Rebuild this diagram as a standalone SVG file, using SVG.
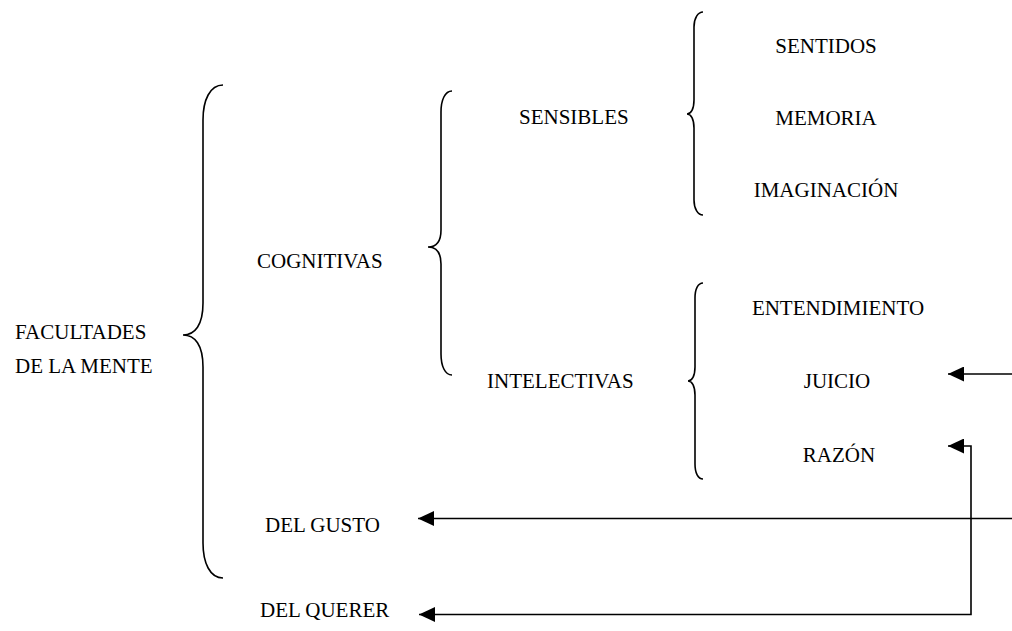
<svg xmlns="http://www.w3.org/2000/svg" width="1012" height="631" viewBox="0 0 1012 631">
<style>
text{font-family:"Liberation Serif","Times New Roman",serif;font-size:21px;fill:#000}
.brace{fill:none;stroke:#000;stroke-width:1.6}
.conn{fill:none;stroke:#000;stroke-width:1.6}
</style>
<defs>
<marker id="ah" viewBox="0 0 16 15" refX="16" refY="7.5" markerWidth="16" markerHeight="15" markerUnits="userSpaceOnUse" orient="auto-start-reverse">
<path d="M0,0 L16,7.5 L0,15 Z" fill="#000"/>
</marker>
</defs>
<rect width="1012" height="631" fill="#fff"/>
<g id="braces">
<path class="brace" d="M223,85 C210,85 203,100 203,120 L203,303 C203,325 195,335 183,335 C195,335 203,345 203,367 L203,543 C203,563 210,578 223,578"/>
<path class="brace" d="M452,91 C445,91 441,100 441,112 L441,230 C441,242 436,247 428,247 C436,247 441,252 441,264 L441,354 C441,366 445,375 452,375"/>
<path class="brace" d="M703,12 C698,12 694,18 694,27 L694,100 C694,109 691,114 687,114 C691,114 694,119 694,128 L694,200 C694,209 698,215 703,215"/>
<path class="brace" d="M703,283 C698,283 695,289 695,298 L695,367 C695,376 692,381 688,381 C692,381 695,386 695,395 L695,464 C695,473 698,479 703,479"/>
</g>
<g id="root"><text x="15" y="339">FACULTADES</text><text x="15" y="373">DE LA MENTE</text></g>
<g id="cognitivas"><text x="257" y="268">COGNITIVAS</text></g>
<g id="sensibles"><text x="519" y="124">SENSIBLES</text></g>
<g id="intelectivas"><text x="487" y="388">INTELECTIVAS</text></g>
<g id="sentidos"><text x="826" y="53" text-anchor="middle">SENTIDOS</text></g>
<g id="memoria"><text x="826" y="125" text-anchor="middle">MEMORIA</text></g>
<g id="imaginacion"><text x="826" y="197" text-anchor="middle">IMAGINACIÓN</text></g>
<g id="entendimiento"><text x="838" y="315" text-anchor="middle">ENTENDIMIENTO</text></g>
<g id="juicio"><text x="837" y="388" text-anchor="middle">JUICIO</text></g>
<g id="razon"><text x="839" y="462" text-anchor="middle">RAZÓN</text></g>
<g id="delgusto"><text x="265" y="532">DEL GUSTO</text></g>
<g id="delquerer"><text x="260" y="617">DEL QUERER</text></g>
<g id="connectors">
<path class="conn" d="M1012,374 L948,374" marker-end="url(#ah)"/>
<path class="conn" d="M1012,518.5 L418,518.5" marker-end="url(#ah)"/>
<path class="conn" d="M948,446 L971,446 L971,614.5 L419,614.5" marker-start="url(#ah)" marker-end="url(#ah)"/>
</g>
</svg>
